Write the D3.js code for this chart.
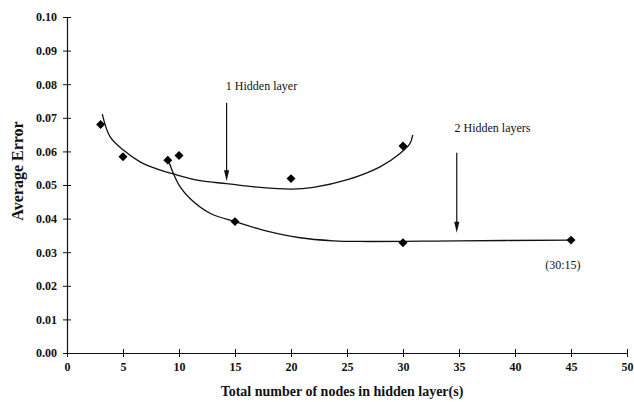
<!DOCTYPE html>
<html><head><meta charset="utf-8">
<script src="https://cdn.jsdelivr.net/npm/d3@7"></script>
<style>body{margin:0;background:#fff}svg{display:block}</style>
</head><body>
<svg id="c" width="634" height="402"></svg>
<script>
// Data
const xTicks = [0,5,10,15,20,25,30,35,40,45,50];
const yTicks = [0,0.01,0.02,0.03,0.04,0.05,0.06,0.07,0.08,0.09,0.10];
const oneLayerX = [3,5,10,20,30];
const oneLayerY = [0.068,0.0584,0.0588,0.0519,0.0616];
const twoLayerX = [9,15,30,45];
const twoLayerY = [0.0574,0.0391,0.0328,0.0336];
// trend curves
const oneTrendX = [3.15,3.84,5.03,6.52,8.01,9.49,11.88,14.26,17.23,20.0,22.0,24.97,27.95,29.73,30.63,30.87];
const oneTrendY = [0.0711,0.0644,0.0604,0.0569,0.0548,0.0533,0.0513,0.0504,0.0493,0.0488,0.0493,0.0515,0.0554,0.0594,0.0624,0.0649];
const twoTrendX = [9.0,9.49,10.09,10.98,12.77,15.0,17.5,20.8,23.78,26.2,35,45];
const twoTrendY = [0.0578,0.0535,0.0495,0.0460,0.0416,0.0391,0.0366,0.0343,0.0334,0.0332,0.0334,0.0336];

const svg = d3.select("#c");
const x = d3.scaleLinear().domain([0,50]).range([67,627]);
const y = d3.scaleLinear().domain([0,0.1]).range([353,17]);
const serif = "'Liberation Serif','Times New Roman',serif";

// axes
const gx = svg.append("g").attr("transform","translate(0,353)")
  .call(d3.axisBottom(x).tickValues(xTicks).tickFormat(d3.format("d")).tickSize(4).tickPadding(5).tickSizeOuter(0));
gx.selectAll(".tick line").attr("y1",-4).attr("y2",4);
const gy = svg.append("g").attr("transform","translate(67,0)")
  .call(d3.axisLeft(y).tickValues(yTicks).tickFormat(d3.format(".2f")).tickSize(4).tickPadding(6).tickSizeOuter(0));
gy.selectAll(".tick line").attr("x1",4).attr("x2",-4);
svg.selectAll(".domain").attr("stroke","#111").attr("stroke-width",1.2);
svg.selectAll(".tick line").attr("stroke","#111").attr("stroke-width",1);
svg.selectAll(".tick text").attr("font-family",serif).attr("font-size",12).attr("font-weight","bold").attr("fill","#111");

// trend curves
const line = d3.line().x(d=>x(d[0])).y(d=>y(d[1])).curve(d3.curveCatmullRom.alpha(0.5));
svg.append("path").attr("d", line(d3.zip(oneTrendX,oneTrendY))).attr("fill","none").attr("stroke","#111").attr("stroke-width",1.3);
svg.append("path").attr("d", line(d3.zip(twoTrendX,twoTrendY))).attr("fill","none").attr("stroke","#111").attr("stroke-width",1.3);

// points
const sym = d3.symbol().type(d3.symbolSquare).size(40);
const pts = d3.zip(oneLayerX,oneLayerY).concat(d3.zip(twoLayerX,twoLayerY));
svg.selectAll("path.pt").data(pts).join("path").attr("class","pt")
  .attr("d", sym).attr("fill","#000")
  .attr("transform", d=>`translate(${x(d[0])},${y(d[1])}) rotate(45)`);

// annotations
function arrow(xv, y0, y1){
  const X = x(xv), Y0 = y(y0), Y1 = y(y1);
  svg.append("line").attr("x1",X).attr("x2",X).attr("y1",Y0).attr("y2",Y1-8).attr("stroke","#111").attr("stroke-width",1.2);
  svg.append("path").attr("d",`M${X-2.6},${Y1-11}L${X+2.6},${Y1-11}L${X},${Y1}Z`).attr("fill","#111");
}
arrow(14.25, 0.0745, 0.0511);
arrow(34.8, 0.0596, 0.0358);
svg.append("text").attr("x",x(14.18)).attr("y",y(0.0784)).attr("font-family",serif).attr("font-size",12).attr("fill","#111").text("1 Hidden layer");
svg.append("text").attr("x",x(34.6)).attr("y",y(0.0658)).attr("font-family",serif).attr("font-size",12).attr("fill","#111").text("2 Hidden layers");
svg.append("text").attr("x",x(42.7)).attr("y",y(0.0249)).attr("font-family",serif).attr("font-size",12).attr("fill","#111").text("(30:15)");

// axis titles
svg.append("text").attr("transform","translate(23,171) rotate(-90)").attr("text-anchor","middle")
  .attr("font-family",serif).attr("font-size",16).attr("font-weight","bold").attr("fill","#111").text("Average Error");
svg.append("text").attr("x",342).attr("y",396).attr("text-anchor","middle")
  .attr("font-family",serif).attr("font-size",14).attr("font-weight","bold").attr("fill","#111").text("Total number of nodes in hidden layer(s)");
</script>
</body></html>
